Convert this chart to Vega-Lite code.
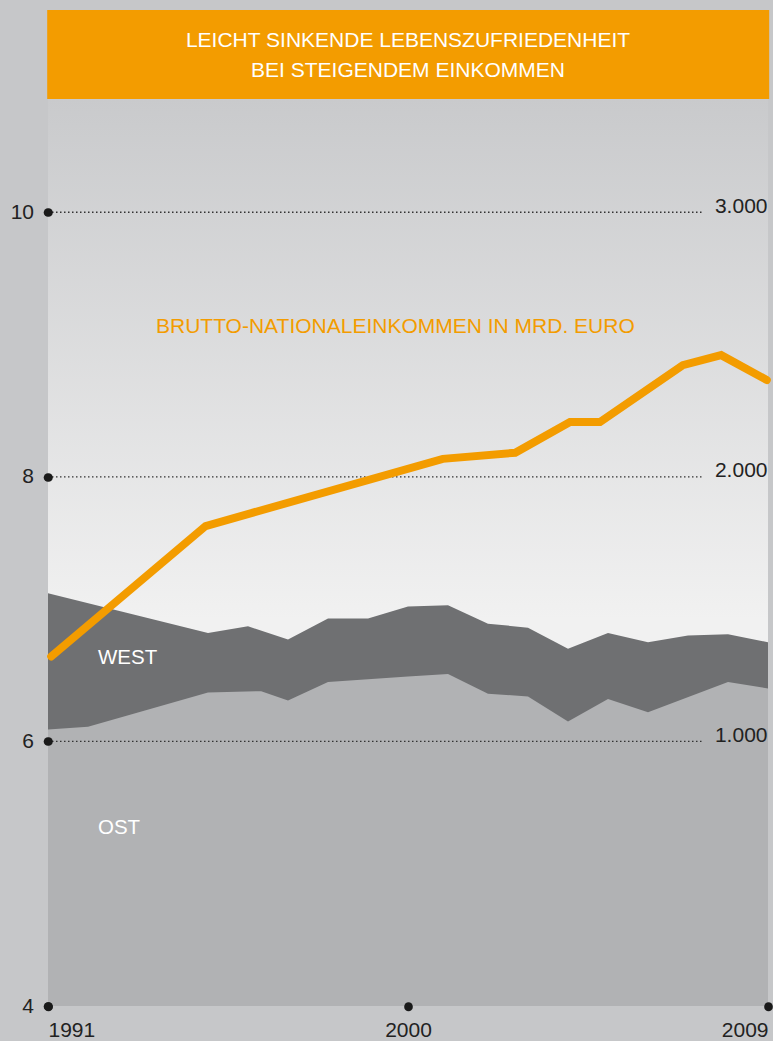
{
  "$schema": "https://vega.github.io/schema/vega-lite/v6.json",
  "width": 720,
  "height": 907,
  "autosize": {"type": "none"},
  "padding": {"left": 48, "top": 99, "right": 5, "bottom": 35},
  "background": "#c6c7c9",
  "datasets": {
    "satisfaction": [
      {"region": "West", "year": 1991, "value": 7.12},
      {"region": "West", "year": 1995, "value": 6.82},
      {"region": "West", "year": 1996, "value": 6.87},
      {"region": "West", "year": 1997, "value": 6.77},
      {"region": "West", "year": 1998, "value": 6.93},
      {"region": "West", "year": 1999, "value": 6.93},
      {"region": "West", "year": 2000, "value": 7.02},
      {"region": "West", "year": 2001, "value": 7.03},
      {"region": "West", "year": 2002, "value": 6.89},
      {"region": "West", "year": 2003, "value": 6.86},
      {"region": "West", "year": 2004, "value": 6.70},
      {"region": "West", "year": 2005, "value": 6.82},
      {"region": "West", "year": 2006, "value": 6.75},
      {"region": "West", "year": 2007, "value": 6.80},
      {"region": "West", "year": 2008, "value": 6.81},
      {"region": "West", "year": 2009, "value": 6.75},
      {"region": "Ost", "year": 1991, "value": 6.09},
      {"region": "Ost", "year": 1992, "value": 6.11},
      {"region": "Ost", "year": 1995, "value": 6.37},
      {"region": "Ost", "year": 1996.33, "value": 6.38},
      {"region": "Ost", "year": 1997, "value": 6.31},
      {"region": "Ost", "year": 1998, "value": 6.45},
      {"region": "Ost", "year": 2000, "value": 6.49},
      {"region": "Ost", "year": 2001, "value": 6.51},
      {"region": "Ost", "year": 2002, "value": 6.36},
      {"region": "Ost", "year": 2003, "value": 6.34},
      {"region": "Ost", "year": 2004, "value": 6.15},
      {"region": "Ost", "year": 2005, "value": 6.32},
      {"region": "Ost", "year": 2006, "value": 6.22},
      {"region": "Ost", "year": 2008, "value": 6.45},
      {"region": "Ost", "year": 2009, "value": 6.40}
    ],
    "income": [
      {"year": 1991.08, "income": 1321},
      {"year": 1994.94, "income": 1814},
      {"year": 2000.87, "income": 2068},
      {"year": 2002.68, "income": 2091},
      {"year": 2004.05, "income": 2207},
      {"year": 2004.8, "income": 2207},
      {"year": 2006.87, "income": 2422},
      {"year": 2007.83, "income": 2460},
      {"year": 2008.97, "income": 2366}
    ],
    "gridlines": [{"level": 6}, {"level": 8}, {"level": 10}],
    "single": [{}]
  },
  "layer": [
    {
      "layer": [
        {
          "data": {"name": "single"},
          "mark": {"type": "rect", "color": "#f39c00"},
          "encoding": {
            "x": {"datum": 1990.98, "type": "quantitative", "scale": {"domain": [1991, 2009], "nice": false, "zero": false}, "axis": {"values": [1991, 2000, 2009], "format": "d", "zindex": 1}, "title": null},
            "x2": {"datum": 2009.03},
            "y": {"datum": 11.528, "type": "quantitative", "scale": {"domain": [4, 10.856], "nice": false, "zero": false}, "axis": {"values": [4, 6, 8, 10], "format": "d", "zindex": 1}, "title": null},
            "y2": {"datum": 10.856}
          }
        },
        {
          "data": {"name": "single"},
          "mark": {
            "type": "rect",
            "color": {
              "gradient": "linear", "x1": 0, "y1": 0, "x2": 0, "y2": 1,
              "stops": [
                {"offset": 0, "color": "#c9cacc"},
                {"offset": 0.574, "color": "#f1f1f1"},
                {"offset": 1, "color": "#f1f1f1"}
              ]
            }
          },
          "encoding": {
            "x": {"datum": 1991, "type": "quantitative", "title": null},
            "x2": {"datum": 2009},
            "y": {"datum": 10.856, "type": "quantitative", "title": null},
            "y2": {"datum": 4}
          }
        },
        {
          "data": {"name": "satisfaction"},
          "transform": [{"filter": "datum.region === 'West'"}],
          "mark": {"type": "area", "color": "#6f7072", "opacity": 1},
          "encoding": {
            "x": {"field": "year", "type": "quantitative", "title": null},
            "y": {"field": "value", "type": "quantitative", "title": null},
            "y2": {"datum": 4}
          }
        },
        {
          "data": {"name": "satisfaction"},
          "transform": [{"filter": "datum.region === 'Ost'"}],
          "mark": {"type": "area", "color": "#b1b2b4", "opacity": 1},
          "encoding": {
            "x": {"field": "year", "type": "quantitative", "title": null},
            "y": {"field": "value", "type": "quantitative", "title": null},
            "y2": {"datum": 4}
          }
        },
        {
          "data": {"name": "gridlines"},
          "mark": {"type": "rule", "color": "#333333", "strokeWidth": 1.3, "strokeDash": [1.5, 2.5]},
          "encoding": {
            "x": {"datum": 1991, "type": "quantitative", "title": null},
            "x2": {"datum": 2007.38},
            "y": {"field": "level", "type": "quantitative", "title": null}
          }
        },
        {
          "data": {"name": "single"},
          "mark": {"type": "text", "text": "WEST", "color": "#ffffff", "font": "Liberation Sans", "fontSize": 20.5, "align": "left", "baseline": "alphabetic"},
          "encoding": {
            "x": {"datum": 1992.25, "type": "quantitative", "title": null},
            "y": {"datum": 6.585, "type": "quantitative", "title": null}
          }
        },
        {
          "data": {"name": "single"},
          "mark": {"type": "text", "text": "OST", "color": "#ffffff", "font": "Liberation Sans", "fontSize": 20.5, "align": "left", "baseline": "alphabetic"},
          "encoding": {
            "x": {"datum": 1992.25, "type": "quantitative", "title": null},
            "y": {"datum": 5.30, "type": "quantitative", "title": null}
          }
        },
        {
          "data": {"name": "single"},
          "mark": {"type": "text", "text": "BRUTTO-NATIONALEINKOMMEN IN MRD. EURO", "color": "#f39c00", "font": "Liberation Sans", "fontSize": 21, "align": "left", "baseline": "alphabetic"},
          "encoding": {
            "x": {"datum": 1993.7, "type": "quantitative", "title": null},
            "y": {"datum": 9.087, "type": "quantitative", "title": null}
          }
        },
        {
          "data": {"name": "single"},
          "mark": {"type": "text", "text": ["LEICHT SINKENDE LEBENSZUFRIEDENHEIT", "BEI STEIGENDEM EINKOMMEN"], "lineHeight": 30.6, "color": "#ffffff", "font": "Liberation Sans", "fontSize": 21, "align": "center", "baseline": "alphabetic"},
          "encoding": {
            "x": {"datum": 2000, "type": "quantitative", "title": null},
            "y": {"datum": 11.251, "type": "quantitative", "title": null}
          }
        }
      ]
    },
    {
      "data": {"name": "income"},
      "mark": {"type": "line", "color": "#f39c00", "strokeWidth": 8, "strokeCap": "round", "strokeJoin": "miter"},
      "encoding": {
        "x": {"field": "year", "type": "quantitative", "title": null},
        "y": {
          "field": "income", "type": "quantitative", "title": null,
          "scale": {"domain": [0, 3428], "nice": false, "zero": false},
          "axis": {"orient": "right", "values": [1000, 2000, 3000], "zindex": 1, "labelExpr": "replace(format(datum.value, ','), ',', '.')"}
        }
      }
    }
  ],
  "resolve": {"scale": {"y": "independent"}},
  "config": {
    "view": {"stroke": null},
    "axis": {
      "domain": false,
      "grid": false,
      "labelFont": "Liberation Sans",
      "labelFontSize": 21,
      "labelColor": "#222222"
    },
    "axisLeft": {"tickSize": 0.5, "tickWidth": 8.6, "tickCap": "round", "tickColor": "#1a1a1a", "labelPadding": 14, "labelBaseline": "middle", "labelFlush": false},
    "axisBottom": {"tickSize": 0.5, "tickWidth": 8.6, "tickCap": "round", "tickColor": "#1a1a1a", "labelPadding": 13, "labelFlush": true, "labelBaseline": "top"},
    "axisRight": {"ticks": false, "labelAlign": "right", "labelPadding": -1, "labelBaseline": "alphabetic", "labelFlush": false, "labelBound": false}
  }
}
